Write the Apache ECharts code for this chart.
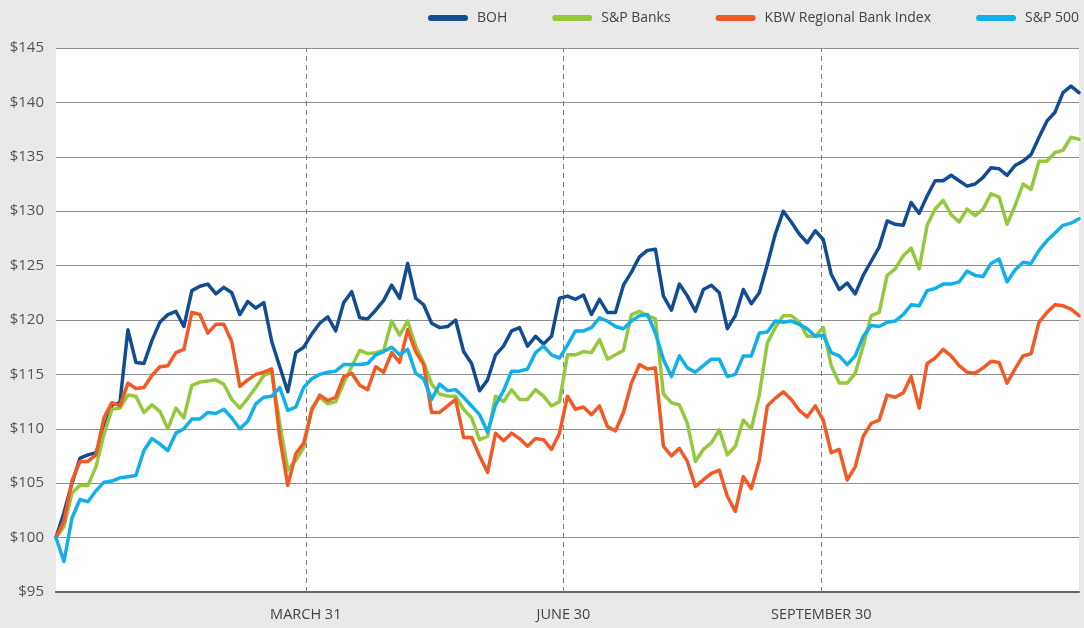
<!DOCTYPE html>
<html>
<head>
<meta charset="utf-8">
<script src="https://cdn.jsdelivr.net/npm/echarts@6/dist/echarts.min.js"></script>
<style>
html,body{margin:0;padding:0;background:#e9e9e9;}
#chart{width:1084px;height:628px;}
</style>
</head>
<body>
<div id="chart"></div>
<script>
// Values sampled roughly every two trading days across the year (index 0..128)
const BOH = [100,102.3,105.0,107.3,107.6,107.8,109.9,112.2,112.4,119.1,116.1,116.0,118.1,119.8,120.5,120.8,119.4,122.7,123.1,123.3,122.4,123.0,122.5,120.5,121.7,121.1,121.6,118.0,115.7,113.4,117.0,117.5,118.7,119.7,120.3,119.0,121.6,122.6,120.2,120.1,120.9,121.8,123.2,122.0,125.2,122.0,121.4,119.7,119.3,119.4,120.0,117.1,116.0,113.5,114.5,116.8,117.6,119.0,119.3,117.6,118.5,117.8,118.5,122.0,122.2,121.9,122.3,120.5,121.9,120.7,120.7,123.2,124.4,125.8,126.4,126.5,122.2,120.9,123.3,122.2,120.8,122.8,123.2,122.5,119.2,120.4,122.8,121.5,122.5,125.1,127.9,130.0,129.0,127.9,127.1,128.2,127.4,124.2,122.8,123.4,122.4,124.1,125.4,126.7,129.1,128.8,128.7,130.8,129.8,131.4,132.8,132.8,133.3,132.8,132.3,132.5,133.1,134.0,133.9,133.3,134.2,134.6,135.2,136.8,138.3,139.1,140.9,141.5,140.9];
const SP_BANKS = [100,101.0,104.1,104.8,104.8,106.5,109.5,111.8,111.9,113.1,113.0,111.5,112.2,111.6,110.0,111.9,111.0,114.0,114.3,114.4,114.5,114.1,112.7,111.9,112.8,113.8,114.9,115.2,110.5,106.2,107.1,108.3,111.9,112.9,112.3,112.5,114.2,115.7,117.2,116.9,117.0,117.2,119.9,118.6,119.9,117.6,116.1,114.1,113.2,113.0,113.0,111.8,111.0,109.0,109.3,113.0,112.5,113.6,112.7,112.7,113.6,113.0,112.1,112.5,116.8,116.8,117.1,117.0,118.2,116.4,116.8,117.2,120.5,120.8,120.4,120.1,113.2,112.4,112.2,110.5,107.0,108.1,108.7,109.9,107.6,108.4,110.8,110.0,113.1,117.9,119.3,120.4,120.4,119.8,118.5,118.5,119.3,115.8,114.2,114.2,115.1,117.6,120.4,120.7,124.1,124.7,125.9,126.6,124.7,128.7,130.2,131.0,129.7,129.0,130.2,129.6,130.2,131.6,131.3,128.8,130.5,132.5,132.0,134.6,134.6,135.4,135.6,136.8,136.6];
const KBW = [100,101.5,105.2,107.0,107.0,107.6,111.0,112.4,112.1,114.2,113.7,113.8,114.9,115.7,115.8,117.0,117.3,120.7,120.5,118.8,119.6,119.6,118.0,113.9,114.5,115.0,115.2,115.5,109.2,104.8,107.7,108.7,111.7,113.1,112.6,112.9,114.8,115.1,114.0,113.6,115.7,115.2,117.0,116.1,119.1,117.1,115.9,111.5,111.5,112.1,112.7,109.2,109.2,107.5,106.0,109.6,108.9,109.6,109.1,108.4,109.1,109.0,108.1,109.6,113.0,111.8,112.0,111.3,112.1,110.2,109.8,111.5,114.2,115.9,115.5,115.6,108.4,107.5,108.2,107.0,104.7,105.3,105.9,106.2,103.8,102.4,105.6,104.5,107.1,112.1,112.8,113.4,112.7,111.7,111.1,112.1,110.8,107.8,108.1,105.3,106.5,109.3,110.5,110.8,113.1,112.9,113.3,114.8,111.9,116.0,116.5,117.3,116.7,115.8,115.2,115.1,115.6,116.2,116.1,114.2,115.5,116.7,116.9,119.8,120.7,121.4,121.3,121.0,120.4];
const SP500 = [100,97.8,101.8,103.5,103.3,104.3,105.1,105.2,105.5,105.6,105.7,108.0,109.1,108.6,108.0,109.6,110.0,110.9,110.9,111.5,111.4,111.8,111.0,110.0,110.7,112.3,112.9,113.0,113.8,111.7,112.0,113.8,114.6,115.0,115.2,115.3,115.9,115.9,115.9,116.0,116.8,117.1,117.5,116.8,117.3,115.1,114.6,112.7,114.1,113.5,113.6,112.9,112.1,111.3,109.7,112.2,113.5,115.3,115.3,115.5,117.0,117.6,116.8,116.5,117.7,119.0,119.0,119.3,120.2,119.9,119.4,119.2,119.9,120.4,120.5,118.8,116.4,114.8,116.7,115.6,115.2,115.8,116.4,116.4,114.8,115.0,116.7,116.7,118.8,118.9,119.9,119.8,119.9,119.6,119.2,118.5,118.6,117.0,116.7,115.9,116.7,118.5,119.5,119.4,119.8,119.9,120.5,121.4,121.3,122.7,122.9,123.3,123.3,123.5,124.5,124.1,124.0,125.2,125.6,123.5,124.6,125.3,125.2,126.4,127.3,128.0,128.7,128.9,129.3];
const SERIES_NAMES = ['BOH','S&P Banks','KBW Regional Bank Index','S&P 500'];
const QUARTER_LABELS = ['MARCH 31','JUNE 30','SEPTEMBER 30'];
const QUARTER_INDEX = [31.25, 63.5, 95.75];
const Y_TICKS = [95,100,105,110,115,120,125,130,135,140,145];

const colors = ['#124d92','#94c83d','#f15a24','#11b0e8'];
const allData = [BOH, SP_BANKS, KBW, SP500];
const lastIndex = BOH.length - 1;

const series = allData.map((arr, k) => ({
  name: SERIES_NAMES[k],
  type: 'line',
  data: arr.map((v, i) => [i, v]),
  showSymbol: false,
  symbol: 'none',
  lineStyle: {width: 3.5, color: colors[k], join: 'round', cap: 'round'},
  itemStyle: {color: colors[k]},
  z: 3 + k
}));
series[0].markLine = {
  silent: true,
  symbol: 'none',
  z: 1,
  label: {show: false},
  lineStyle: {color: '#7a7a7a', width: 1, type: [5, 4]},
  data: QUARTER_INDEX.map(v => ({xAxis: v}))
};

const chart = echarts.init(document.getElementById('chart'), null, {renderer: 'canvas'});
chart.setOption({
  animation: false,
  backgroundColor: '#e9e9e9',
  grid: {left: 56, right: 5, top: 48, bottom: 36, show: true, backgroundColor: '#ffffff', borderWidth: 0},
  legend: {
    data: SERIES_NAMES,
    right: 0,
    top: 6,
    icon: 'path://M3,0 L37,0 A3,3 0 0 1 37,6 L3,6 A3,3 0 0 1 3,0 Z',
    itemWidth: 40,
    itemHeight: 6,
    itemGap: 45,
    textStyle: {fontFamily: 'Open Sans', fontSize: 14, color: '#444', padding: [0, 0, 0, 4]}
  },
  xAxis: {
    type: 'value',
    min: 0,
    max: lastIndex,
    axisLine: {show: true, lineStyle: {color: '#666', width: 2}},
    axisTick: {show: false},
    splitLine: {show: false},
    axisLabel: {
      customValues: QUARTER_INDEX,
      formatter: function (v) {
        const idx = QUARTER_INDEX.findIndex(q => Math.abs(q - v) < 0.01);
        return idx >= 0 ? QUARTER_LABELS[idx] : '';
      },
      fontFamily: 'Open Sans',
      fontSize: 14.5,
      color: '#444',
      margin: 15
    }
  },
  yAxis: {
    type: 'value',
    min: Y_TICKS[0],
    max: Y_TICKS[Y_TICKS.length - 1],
    interval: 5,
    axisLine: {show: false},
    axisTick: {show: false},
    splitLine: {show: true, lineStyle: {color: '#8e8e8e', width: 1}},
    axisLabel: {
      formatter: v => '$' + v,
      fontFamily: 'Open Sans',
      fontSize: 15,
      color: '#555',
      margin: 12
    }
  },
  series: series
});
</script>
</body>
</html>
